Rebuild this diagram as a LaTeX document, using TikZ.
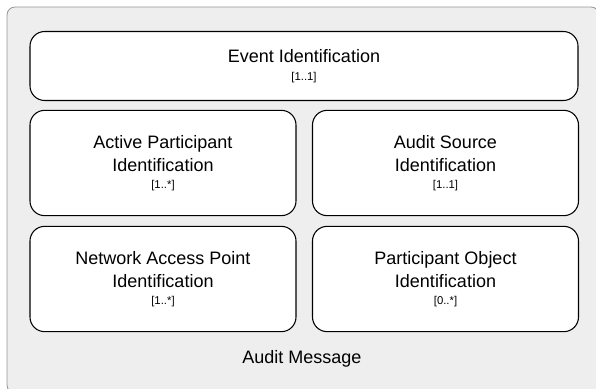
\documentclass[tikz,border=0pt]{standalone}
\usepackage{fontspec}
\setmainfont{Liberation Sans}
\definecolor{panel}{RGB}{238,238,238}
\definecolor{rim}{RGB}{150,150,150}

\begin{document}
\begin{tikzpicture}[x=0.75pt,y=-0.75pt,
    part/.style={rectangle,draw=black,fill=white,rounded corners=11pt,line width=0.8pt,
        align=center,font=\fontsize{13.5}{17}\selectfont,inner sep=0pt},
    wide/.style={part,minimum width=411pt,minimum height=51.75pt},
    half/.style={part,minimum width=199.5pt,minimum height=79pt}]
    \newcommand{\mult}[1]{\\[-4pt]{\fontsize{8.5}{10}\selectfont #1}}
    \useasboundingbox (0,0) rectangle (596,389);
    \draw[draw=rim,fill=panel,rounded corners=6pt,line width=0.6pt] (7,7) rectangle (599,393);
    \node[wide] (event) at (304,66) {Event Identification\mult{[1..1]}};
    \node[half] (active) at (163,163) {Active Participant\\Identification\mult{[1..*]}};
    \node[half] (source) at (445.5,163) {Audit Source\\Identification\mult{[1..1]}};
    \node[half] (nap) at (163,279) {Network Access Point\\Identification\mult{[1..*]}};
    \node[half] (object) at (445.5,279) {Participant Object\\Identification\mult{[0..*]}};
    \node[font=\fontsize{13.5}{17}\selectfont] (msg) at (302,359) {Audit Message};
\end{tikzpicture}
\end{document}
